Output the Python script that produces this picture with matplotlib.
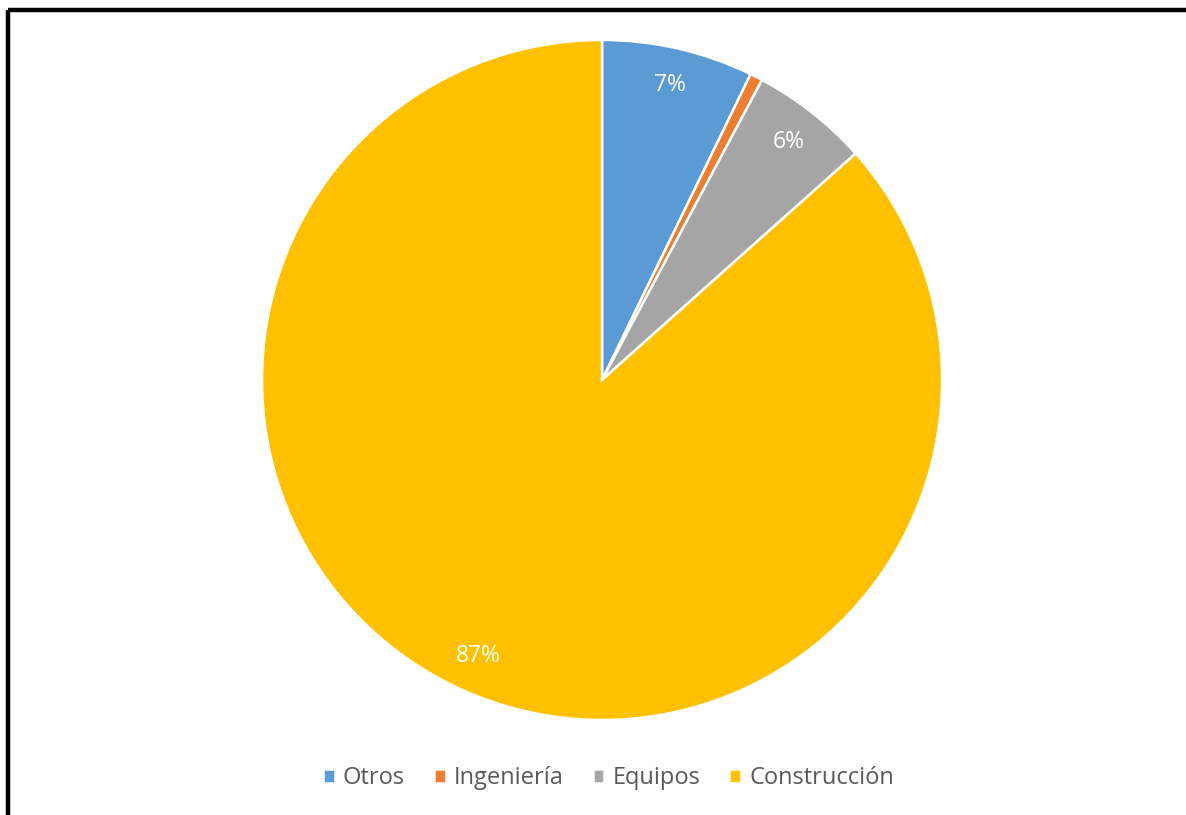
import matplotlib.pyplot as plt
from matplotlib.lines import Line2D

categorias = ['Otros', 'Ingeniería', 'Equipos', 'Construcción']
valores = [7.2, 0.6, 5.6, 86.6]
colores = ['#5B9BD5', '#ED7D31', '#A5A5A5', '#FFC000']

plt.rcParams['font.family'] = ['Open Sans', 'DejaVu Sans']

fig = plt.figure(figsize=(11.86, 8.15), dpi=100)
fig.patch.set_facecolor('white')

# marco negro arriba y a la izquierda
fig.add_artist(Line2D([0.0068, 1.0], [0.9877, 0.9877], color='black', lw=3.2,
                      solid_capstyle='butt', transform=fig.transFigure))
fig.add_artist(Line2D([0.0068, 0.0068], [0.0, 0.9877], color='black', lw=3.2,
                      solid_capstyle='butt', transform=fig.transFigure))

ax = fig.add_axes([0.2209, 0.1166, 0.5734, 0.8344])


def etiqueta(pct):
    # no se muestra la etiqueta de la porción muy pequeña
    return '' if pct < 1 else f'{pct:.0f}%'


wedges, textos, autotextos = ax.pie(
    valores, colors=colores, startangle=90, counterclock=False,
    autopct=etiqueta, pctdistance=0.89, radius=1,
    wedgeprops=dict(edgecolor='white', linewidth=1.8),
    textprops=dict(color='white', fontsize=16.5))
ax.set_xlim(-1, 1)
ax.set_ylim(-1, 1)
ax.set_aspect('equal')
ax.axis('off')

fig.legend(wedges, categorias, loc='center', bbox_to_anchor=(0.513, 0.045),
           ncol=4, frameon=False, fontsize=17, handlelength=0.5,
           handleheight=0.5, handletextpad=0.35, columnspacing=1.22,
           labelcolor='#595959')

fig.savefig('out.png', dpi=100)
